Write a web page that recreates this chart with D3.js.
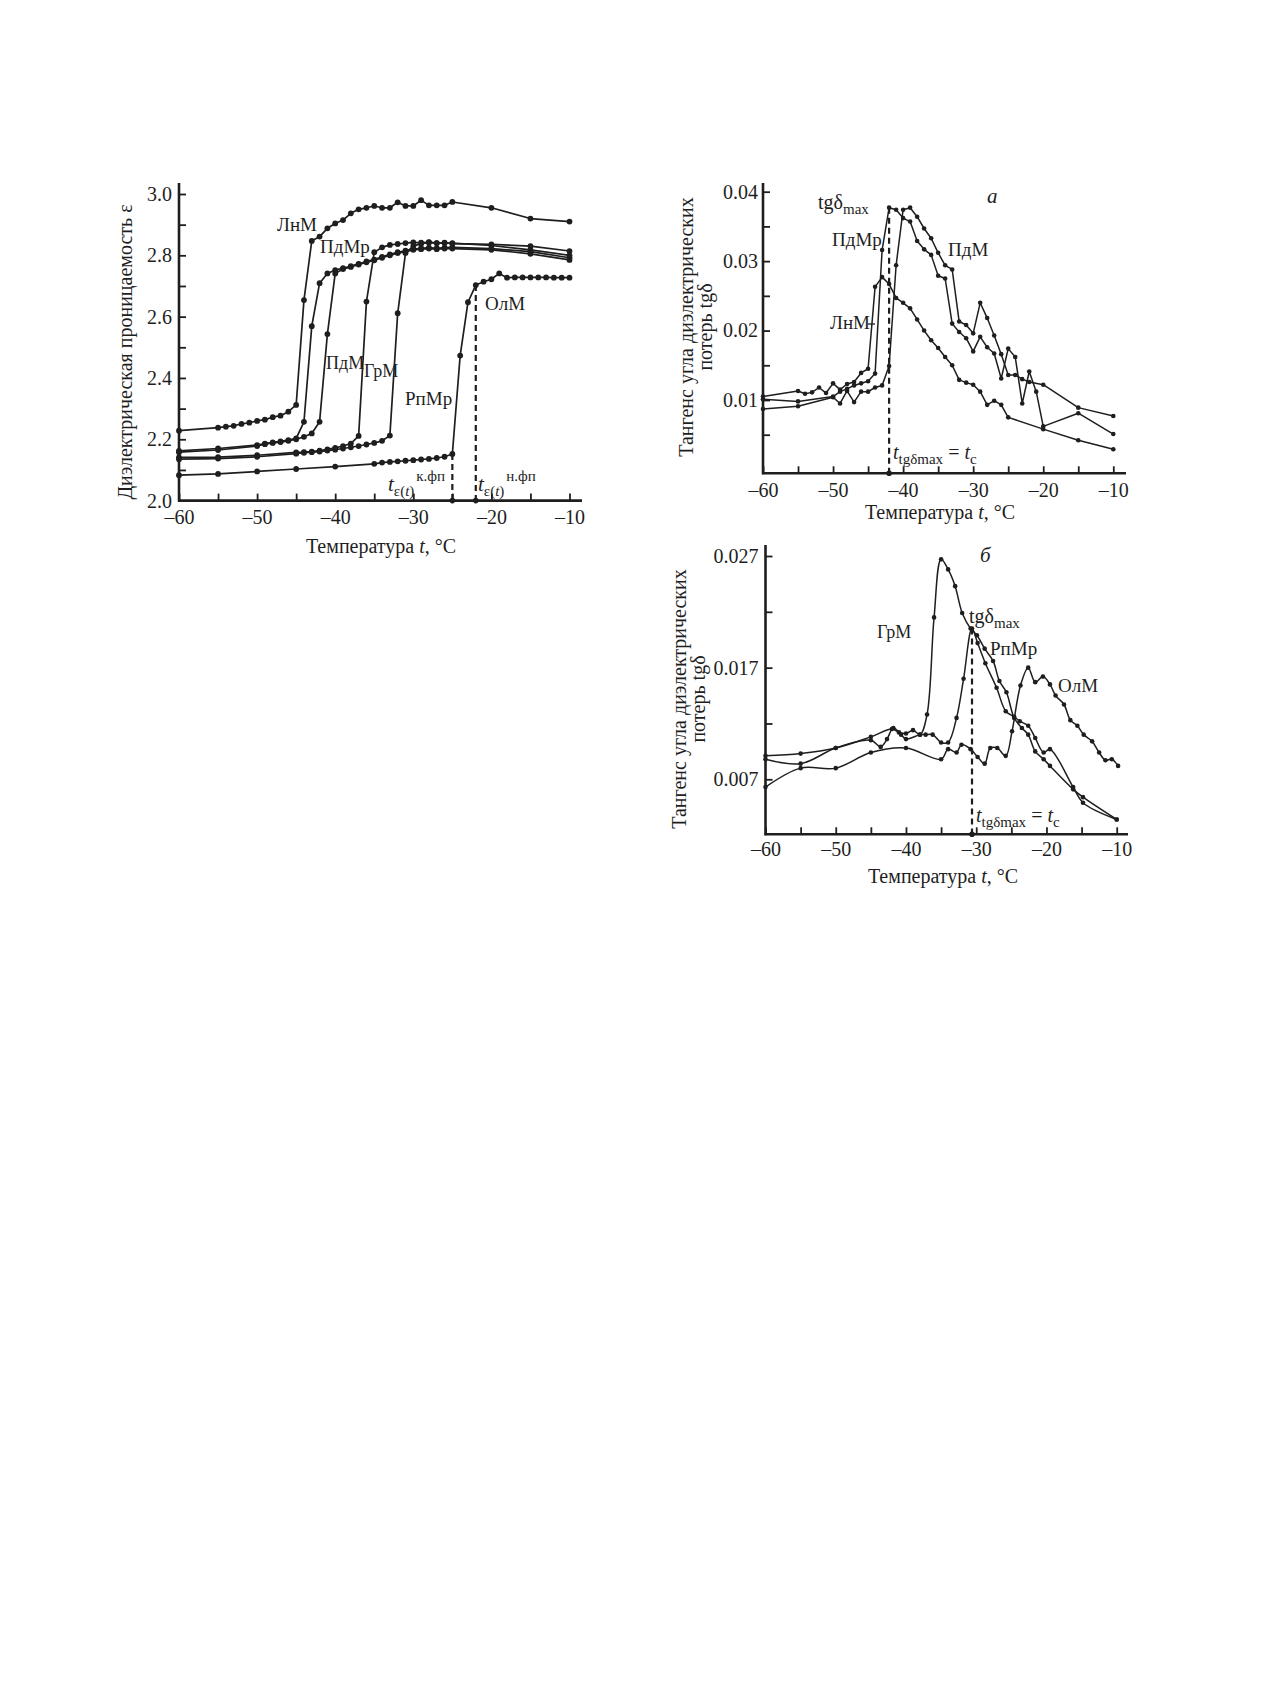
<!DOCTYPE html>
<html><head><meta charset="utf-8">
<script src="https://cdn.jsdelivr.net/npm/d3@7"></script>
<style>
body{margin:0;background:#fff}
text{font-family:"Liberation Serif","Times New Roman",serif;fill:#1e1e1e}
</style>
</head><body>
<svg id="c" width="1270" height="1683"></svg>
<script>
// ---------- DATA ----------
// Left panel: dielectric permittivity ε vs t (°C)
const epsLnM = [[-60,2.228],[-55,2.238],[-54,2.241],[-53,2.244],[-52,2.25],[-51,2.254],[-50,2.26],[-49,2.264],[-48,2.272],[-47,2.277],[-46,2.29],[-45,2.312],[-44,2.654],[-43,2.847],[-42,2.861],[-41,2.888],[-40,2.904],[-39,2.915],[-38,2.937],[-37,2.95],[-36,2.955],[-35,2.961],[-34,2.955],[-33,2.955],[-32,2.973],[-31,2.961],[-30,2.961],[-29,2.98],[-28,2.963],[-27,2.963],[-26,2.963],[-25,2.974],[-20,2.955],[-15,2.92],[-10,2.91]];
const epsPdMr = [[-60,2.162],[-55,2.17],[-50,2.181],[-49,2.186],[-48,2.19],[-47,2.193],[-46,2.197],[-45,2.203],[-44,2.257],[-43,2.569],[-42,2.709],[-41,2.741],[-40,2.752],[-39,2.758],[-38,2.765],[-37,2.772],[-36,2.78],[-35,2.786],[-34,2.795],[-33,2.803],[-32,2.81],[-31,2.815],[-30,2.82],[-29,2.823],[-28,2.825],[-27,2.823],[-26,2.825],[-25,2.826],[-20,2.822],[-15,2.812],[-10,2.792]];
const epsPdM = [[-60,2.158],[-55,2.165],[-50,2.178],[-49,2.184],[-48,2.188],[-47,2.191],[-46,2.195],[-45,2.2],[-44,2.208],[-43,2.219],[-42,2.257],[-41,2.543],[-40,2.741],[-39,2.755],[-38,2.762],[-37,2.77],[-36,2.777],[-35,2.784],[-34,2.792],[-33,2.8],[-32,2.807],[-31,2.812],[-30,2.818],[-29,2.82],[-28,2.822],[-27,2.82],[-26,2.822],[-25,2.822],[-20,2.818],[-15,2.805],[-10,2.785]];
const epsGrM = [[-60,2.141],[-55,2.142],[-50,2.148],[-45,2.157],[-44,2.158],[-43,2.16],[-42,2.163],[-41,2.167],[-40,2.172],[-39,2.178],[-38,2.186],[-37,2.211],[-36,2.649],[-35,2.81],[-34,2.826],[-33,2.834],[-32,2.837],[-31,2.84],[-30,2.842],[-29,2.841],[-28,2.843],[-27,2.84],[-26,2.841],[-25,2.838],[-20,2.836],[-15,2.83],[-10,2.814]];
const epsRpMr = [[-60,2.135],[-55,2.137],[-50,2.143],[-45,2.153],[-44,2.156],[-43,2.158],[-42,2.16],[-41,2.163],[-40,2.166],[-39,2.17],[-38,2.174],[-37,2.178],[-36,2.183],[-35,2.188],[-34,2.195],[-33,2.212],[-32,2.611],[-31,2.807],[-30,2.83],[-29,2.838],[-28,2.842],[-27,2.84],[-26,2.84],[-25,2.84],[-20,2.832],[-15,2.818],[-10,2.80]];
const epsOlM = [[-60,2.083],[-55,2.087],[-50,2.095],[-45,2.103],[-40,2.111],[-35,2.12],[-34,2.124],[-33,2.126],[-32,2.128],[-31,2.13],[-30,2.132],[-29,2.134],[-28,2.136],[-27,2.139],[-26,2.143],[-25,2.152],[-24,2.473],[-23,2.647],[-22,2.703],[-21,2.714],[-20,2.722],[-19,2.741],[-18,2.727],[-17,2.728],[-16,2.728],[-15,2.728],[-14,2.728],[-13,2.728],[-12,2.727],[-11,2.727],[-10,2.727]];

// Panel а: tgδ
const tgA_LnM = [[-60,0.0105],[-55,0.0113],[-54,0.0109],[-53,0.0111],[-52,0.0118],[-51,0.0110],[-50,0.0124],[-49,0.0115],[-48,0.0123],[-47,0.0126],[-46,0.0139],[-45,0.0145],[-44,0.0263],[-43,0.0277],[-42,0.0267],[-41,0.0247],[-40,0.0240],[-39,0.0232],[-38,0.0216],[-37,0.0200],[-36,0.0186],[-35,0.0175],[-34,0.0162],[-33,0.0150],[-32,0.0129],[-31,0.0125],[-30,0.0122],[-29,0.0112],[-28,0.0093],[-27,0.0099],[-26,0.0093],[-25,0.0075],[-20,0.0058],[-15,0.0042],[-10,0.0029]];
const tgA_PdMr = [[-60,0.0101],[-55,0.0098],[-50,0.0105],[-49,0.0112],[-48,0.0116],[-47,0.0121],[-46,0.0124],[-45,0.0127],[-44,0.0138],[-43,0.0316],[-42,0.0377],[-41,0.0374],[-40,0.0362],[-39,0.0357],[-38,0.0329],[-37,0.0317],[-36,0.0309],[-35,0.0279],[-34,0.0275],[-33,0.0210],[-32,0.0198],[-31,0.0189],[-30,0.0170],[-29,0.0191],[-28,0.0176],[-27,0.0167],[-26,0.0131],[-25,0.0174],[-24,0.0162],[-23,0.0095],[-22,0.0141],[-21,0.0112],[-20,0.0062],[-15,0.0081],[-10,0.0051]];
const tgA_PdM = [[-60,0.0087],[-55,0.0091],[-50,0.0104],[-49,0.0095],[-48,0.0113],[-47,0.0097],[-46,0.0112],[-45,0.0112],[-44,0.0118],[-43,0.0121],[-42,0.0149],[-41,0.0294],[-40,0.0374],[-39,0.0377],[-38,0.0364],[-37,0.0347],[-36,0.0333],[-35,0.0312],[-34,0.0294],[-33,0.0288],[-32,0.0213],[-31,0.0208],[-30,0.0196],[-29,0.0240],[-28,0.0218],[-27,0.0193],[-26,0.0166],[-25,0.0136],[-24,0.0136],[-23,0.0130],[-22,0.0126],[-20,0.0122],[-15,0.0089],[-10,0.0077]];

// Panel б: tgδ
const tgB_GrM = [[-60,0.0091],[-55,0.0093],[-50,0.0098],[-45,0.0108],[-42,0.0115],[-41,0.0112],[-40,0.0111],[-39,0.0114],[-38,0.0110],[-37,0.0128],[-36,0.0215],[-35,0.0267],[-34,0.0258],[-33,0.0243],[-32,0.0219],[-30.8,0.0205],[-29.9,0.0199],[-28.8,0.0187],[-27.6,0.0176],[-26.7,0.0158],[-25.7,0.0148],[-24.6,0.0125],[-23.5,0.0116],[-22.6,0.0110],[-21.6,0.0095],[-20.4,0.0088],[-19.5,0.0082],[-16.2,0.0061],[-14.8,0.0054],[-10,0.0034]];
const tgB_RpMr = [[-60,0.0088],[-55,0.0084],[-50,0.0098],[-45,0.0105],[-43.6,0.0099],[-42.7,0.0106],[-41.8,0.0116],[-40.7,0.0110],[-40,0.0106],[-38,0.0110],[-37.2,0.0110],[-36.2,0.0110],[-35,0.0103],[-34,0.0103],[-32.8,0.0125],[-31.8,0.0160],[-30.6,0.0205],[-29.8,0.0192],[-28.7,0.0174],[-27.1,0.0152],[-25.8,0.0131],[-24.6,0.0126],[-23.8,0.0122],[-22.6,0.0118],[-21.6,0.0107],[-20.4,0.0094],[-19.5,0.0097],[-16.2,0.0063],[-14.8,0.0049],[-10,0.0034]];
const tgB_OlM = [[-60,0.0063],[-55,0.0080],[-50,0.0080],[-45,0.0094],[-40,0.0098],[-35,0.0088],[-34,0.0097],[-32.8,0.0094],[-32.1,0.0101],[-30.8,0.0097],[-29.8,0.0090],[-28.8,0.0084],[-28,0.0098],[-27,0.0098],[-25.8,0.0091],[-24.9,0.0113],[-23.7,0.0154],[-22.6,0.0170],[-21.6,0.0157],[-20.5,0.0162],[-19.5,0.0155],[-18.7,0.0145],[-17.5,0.0137],[-16.6,0.0123],[-15.6,0.0118],[-14.7,0.0110],[-13.5,0.0104],[-12.5,0.0094],[-11.6,0.0087],[-10.7,0.0088],[-9.8,0.0082]];

const xTicks = [-60,-55,-50,-45,-40,-35,-30,-25,-20,-15,-10];
const xTickLabels = [-60,-50,-40,-30,-20,-10];
const epsTicks = [2.0,2.1,2.2,2.3,2.4,2.5,2.6,2.7,2.8,2.9,3.0];
const epsTickLabels = [2.0,2.2,2.4,2.6,2.8,3.0];
const tgATicks = [0.005,0.01,0.015,0.02,0.025,0.03,0.035,0.04];
const tgATickLabels = [0.01,0.02,0.03,0.04];
const tgBTicks = [0.007,0.012,0.017,0.022,0.027];
const tgBTickLabels = [0.007,0.017,0.027];

// ---------- DRAWING ----------
const svg = d3.select("#c");
const INK = "#1e1e1e";
const fmtT = d => (d<0?"\u2013":"") + Math.abs(d);

function panel(o){
  const x = d3.scaleLinear().domain([-60,-10]).range(o.xr);
  const y = d3.scaleLinear().domain(o.yd).range(o.yr);
  const g = svg.append("g");
  const x0 = x(-60);
  g.append("g").attr("transform",`translate(0,${o.axisY})`)
    .call(d3.axisBottom(x).tickValues(xTicks).tickSize(-7).tickPadding(o.xPad)
      .tickFormat(d => xTickLabels.includes(d) ? fmtT(d) : ""))
    .call(s => { s.select(".domain").remove();
      s.selectAll("line").attr("stroke",INK).attr("stroke-width",1.8);
      s.selectAll("text").attr("font-size",20).attr("font-family","Liberation Serif").attr("fill",INK); });
  g.append("g").attr("transform",`translate(${x0},0)`)
    .call(d3.axisLeft(y).tickValues(o.yTicks).tickSize(-7).tickPadding(o.yPad)
      .tickFormat(d => o.yLabels.some(v=>Math.abs(v-d)<1e-9) ? o.yFmt(d) : ""))
    .call(s => { s.select(".domain").remove();
      s.selectAll("line").attr("stroke",INK).attr("stroke-width",1.8);
      s.selectAll("text").attr("font-size",20).attr("font-family","Liberation Serif").attr("fill",INK); });
  g.append("line").attr("x1",x0-1).attr("x2",o.xEnd).attr("y1",o.axisY).attr("y2",o.axisY)
    .attr("stroke",INK).attr("stroke-width",2.6);
  g.append("line").attr("x1",x0).attr("x2",x0).attr("y1",o.axisY+1).attr("y2",o.yTop)
    .attr("stroke",INK).attr("stroke-width",2.6);
  const line = d3.line().x(d=>x(d[0])).y(d=>y(d[1])).curve(o.curve || d3.curveLinear);
  o.series.forEach(s => {
    g.append("path").datum(s).attr("d",line).attr("fill","none")
      .attr("stroke",INK).attr("stroke-width",o.lw||1.5).attr("stroke-linejoin","round");
    g.selectAll(null).data(s).join("circle")
      .attr("cx",d=>x(d[0])).attr("cy",d=>y(d[1])).attr("r",o.r).attr("fill",INK);
  });
  (o.dashes||[]).forEach(dd => {
    g.append("line").attr("x1",x(dd[0])).attr("x2",x(dd[0])).attr("y1",y(dd[1])).attr("y2",o.axisY)
      .attr("stroke",INK).attr("stroke-width",2.2).attr("stroke-dasharray","6,4");
    g.append("circle").attr("cx",x(dd[0])).attr("cy",o.axisY).attr("r",2.8).attr("fill",INK);
  });
  const xt = g.append("text").attr("x",o.xTitle[0]).attr("y",o.xTitle[1])
    .attr("text-anchor","middle").attr("font-size",20);
  xt.append("tspan").text("Температура ");
  xt.append("tspan").attr("font-style","italic").text("t");
  xt.append("tspan").text(", °C");
  o.yTitle.forEach(t => {
    g.append("text").attr("transform",`translate(${t.x},${t.y}) rotate(-90)`)
      .attr("text-anchor","middle").attr("font-size",20).text(t.text);
  });
  return {x,y,g};
}

// Left panel
const L = panel({
  xr:[179,569.5], yd:[2.0,3.0], yr:[500.6,194], axisY:500.6, xEnd:582, yTop:183,
  yTicks:epsTicks, yLabels:epsTickLabels, yFmt:d3.format(".1f"), xPad:9, yPad:7,
  series:[epsLnM,epsPdMr,epsPdM,epsGrM,epsRpMr,epsOlM], r:2.9, lw:1.7,
  dashes:[[-25,2.152],[-22,2.703]],
  xTitle:[381,553],
  yTitle:[{x:132,y:352,text:"Диэлектрическая проницаемость ε"}]
});
function lab(g,x,y,txt,size){ return g.append("text").attr("x",x).attr("y",y).attr("font-size",size||19).text(txt); }
lab(L.g,277,231,"ЛнМ");
lab(L.g,320,253,"ПдМр");
lab(L.g,326,369,"ПдМ",18);
lab(L.g,364,377,"ГрМ",18);
lab(L.g,405,405,"РпМр");
lab(L.g,485,310,"ОлМ");
function tLabel(g,x,y,sup){
  const t = g.append("text").attr("x",x).attr("y",y).attr("font-size",21);
  t.append("tspan").attr("font-style","italic").text("t");
  const s = t.append("tspan").attr("font-size",15).attr("dy",5);
  s.append("tspan").text("ε(");
  s.append("tspan").attr("font-style","italic").text("t");
  s.append("tspan").text(")");
  t.append("tspan").attr("font-size",15).attr("dy",-15).attr("dx",2).text(sup);
}
tLabel(L.g,388,491,"к.фп");
tLabel(L.g,478,491,"н.фп");

// Panel а
const A = panel({
  xr:[763,1113.3], yd:[0.01,0.04], yr:[400,191.7], axisY:473.3, xEnd:1126, yTop:183,
  yTicks:tgATicks, yLabels:tgATickLabels, yFmt:d3.format(".2f"), xPad:10, yPad:5,
  series:[tgA_LnM,tgA_PdMr,tgA_PdM], r:2.3,
  dashes:[[-42,0.0377]],
  xTitle:[940,519],
  yTitle:[{x:693,y:327,text:"Тангенс угла диэлектрических"},{x:712,y:327,text:"потерь tgδ"}]
});
function tgmax(g,x,y){
  const t = g.append("text").attr("x",x).attr("y",y).attr("font-size",20);
  t.append("tspan").text("tgδ");
  t.append("tspan").attr("font-size",15).attr("dy",5).text("max");
}
function tc(g,x,y){
  const t = g.append("text").attr("x",x).attr("y",y).attr("font-size",20);
  t.append("tspan").attr("font-style","italic").text("t");
  t.append("tspan").attr("font-size",15).attr("dy",5).text("tgδmax");
  t.append("tspan").attr("dy",-5).text(" = ");
  t.append("tspan").attr("font-style","italic").text("t");
  t.append("tspan").attr("font-size",15).attr("dy",5).text("c");
}
tgmax(A.g,818,209);
lab(A.g,832,246,"ПдМр");
lab(A.g,830,329,"ЛнМ");
A.g.append("line").attr("x1",868).attr("x2",875).attr("y1",324).attr("y2",324).attr("stroke",INK).attr("stroke-width",1.3);
lab(A.g,948,256,"ПдМ");
A.g.append("text").attr("x",987).attr("y",203).attr("font-size",21).attr("font-style","italic").text("а");
tc(A.g,893,459);

// Panel б
const B = panel({
  xr:[765.5,1116.7], yd:[0.007,0.027], yr:[779.3,556], axisY:834.3, xEnd:1128, yTop:545,
  yTicks:tgBTicks, yLabels:tgBTickLabels, yFmt:d3.format(".3f"), xPad:8, yPad:7,
  series:[tgB_GrM,tgB_RpMr,tgB_OlM], r:2.3, curve:d3.curveCatmullRom.alpha(0.5),
  dashes:[[-30.6,0.0205]],
  xTitle:[943,883],
  yTitle:[{x:686,y:699,text:"Тангенс угла диэлектрических"},{x:705,y:699,text:"потерь tgδ"}]
});
B.g.append("text").attr("x",980).attr("y",562).attr("font-size",21).attr("font-style","italic").text("б");
lab(B.g,877,638,"ГрМ",18);
tgmax(B.g,969,623);
lab(B.g,990,655,"РпМр");
lab(B.g,1058,692,"ОлМ");
tc(B.g,976,822);
</script>
</body></html>
